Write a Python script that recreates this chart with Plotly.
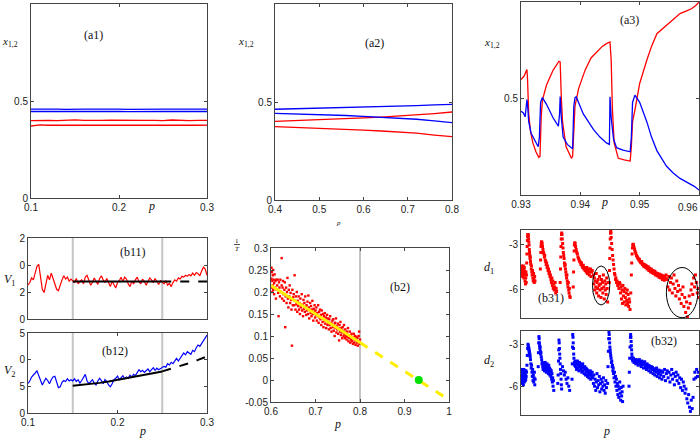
import numpy as np
import plotly.graph_objects as go

W, H = 700, 439

# ---------------- data ----------------
# (a1)
a1_p = [0.10, 0.11, 0.12, 0.13, 0.14, 0.15, 0.16, 0.17, 0.18, 0.19, 0.20,
        0.21, 0.22, 0.23, 0.24, 0.25, 0.26, 0.27, 0.28, 0.29, 0.30]
a1_blue_hi = [0.458, 0.459, 0.458, 0.458, 0.457, 0.459, 0.458, 0.458, 0.459, 0.458, 0.458,
              0.457, 0.458, 0.459, 0.458, 0.458, 0.458, 0.459, 0.458, 0.458, 0.458]
a1_blue_lo = [0.446, 0.445, 0.446, 0.447, 0.446, 0.446, 0.445, 0.446, 0.446, 0.447, 0.446,
              0.445, 0.446, 0.446, 0.446, 0.447, 0.446, 0.445, 0.446, 0.446, 0.446]
a1_red_hi = [0.399, 0.401, 0.400, 0.399, 0.401, 0.403, 0.400, 0.399, 0.400, 0.401, 0.400,
             0.399, 0.401, 0.400, 0.400, 0.399, 0.402, 0.400, 0.399, 0.400, 0.400]
a1_red_lo = [0.371, 0.377, 0.375, 0.376, 0.374, 0.376, 0.375, 0.376, 0.375, 0.376, 0.375,
             0.374, 0.376, 0.375, 0.376, 0.375, 0.374, 0.376, 0.375, 0.375, 0.376]

# (a2)
a2_p = [0.40, 0.44, 0.48, 0.52, 0.56, 0.60, 0.64, 0.68, 0.72, 0.76, 0.80]
a2_blue_hi = [0.463, 0.465, 0.468, 0.470, 0.472, 0.475, 0.477, 0.480, 0.482, 0.485, 0.488]
a2_blue_lo = [0.442, 0.440, 0.437, 0.434, 0.431, 0.427, 0.423, 0.418, 0.412, 0.404, 0.395]
a2_red_hi = [0.401, 0.404, 0.408, 0.411, 0.415, 0.419, 0.423, 0.428, 0.434, 0.441, 0.449]
a2_red_lo = [0.374, 0.371, 0.368, 0.364, 0.361, 0.357, 0.352, 0.347, 0.341, 0.331, 0.323]

# (a3)
a3_red = [(0.9300, 0.598), (0.9305, 0.615), (0.9310, 0.650), (0.9311, 0.600), (0.9313, 0.420),
          (0.9316, 0.330), (0.9320, 0.270), (0.9325, 0.225), (0.9330, 0.195), (0.9332, 0.200),
          (0.9334, 0.400), (0.9336, 0.490), (0.9343, 0.570), (0.9354, 0.646), (0.9364, 0.693),
          (0.9366, 0.690), (0.9368, 0.500), (0.9370, 0.380), (0.9376, 0.250), (0.9385, 0.190),
          (0.9387, 0.200), (0.9389, 0.380), (0.9391, 0.460), (0.9397, 0.550), (0.9408, 0.647),
          (0.9418, 0.710), (0.9428, 0.741), (0.9437, 0.770), (0.9444, 0.784), (0.9450, 0.793),
          (0.9452, 0.700), (0.9454, 0.450), (0.9457, 0.270), (0.9464, 0.190), (0.9474, 0.182),
          (0.9484, 0.176), (0.9486, 0.250), (0.9488, 0.380), (0.9492, 0.440), (0.9500, 0.578),
          (0.9512, 0.698), (0.9520, 0.770), (0.9529, 0.836), (0.9545, 0.879), (0.9556, 0.905),
          (0.9568, 0.940), (0.9580, 0.955), (0.9588, 0.966), (0.9594, 0.980), (0.9600, 1.000)]
a3_blue = [(0.9300, 0.434), (0.9304, 0.425), (0.9307, 0.405), (0.9309, 0.450), (0.9310, 0.495),
           (0.9311, 0.470), (0.9313, 0.380), (0.9317, 0.320), (0.9323, 0.285), (0.9329, 0.250),
           (0.9331, 0.300), (0.9333, 0.480), (0.9336, 0.505), (0.9343, 0.470), (0.9354, 0.400),
           (0.9363, 0.357), (0.9365, 0.420), (0.9366, 0.510), (0.9368, 0.400), (0.9371, 0.300),
           (0.9378, 0.262), (0.9387, 0.240), (0.9389, 0.460), (0.9391, 0.505), (0.9393, 0.509),
           (0.9405, 0.420), (0.9422, 0.340), (0.9433, 0.300), (0.9444, 0.270), (0.9449, 0.262),
           (0.9450, 0.509), (0.9452, 0.400), (0.9456, 0.290), (0.9461, 0.245), (0.9472, 0.232),
           (0.9484, 0.224), (0.9486, 0.300), (0.9488, 0.480), (0.9492, 0.517), (0.9500, 0.480),
           (0.9512, 0.380), (0.9520, 0.300), (0.9529, 0.230), (0.9545, 0.150), (0.9556, 0.115),
           (0.9568, 0.086), (0.9583, 0.060), (0.9592, 0.045), (0.9600, 0.026)]
a3_xtick_vals = [0.93, 0.94, 0.95, 0.96]
a3_xtick_text = ["0.93", "0.94", "0.95", ""]   # last label drawn right-aligned at the edge

# (b11) / (b12): p sampled every 0.002 from 0.1 to 0.3
b1_p = np.round(np.linspace(0.10, 0.30, 101), 3)
b11_v = [1.26, 1.35, 1.52, 1.45, 1.70, 1.95, 2.02, 1.60, 1.10, 0.98,
         1.35, 1.62, 1.45, 1.70, 1.50, 1.30, 1.10, 1.05, 1.30, 1.45,
         1.60, 1.48, 1.55, 1.40, 1.48, 1.42, 1.35, 1.50, 1.30, 1.38,
         1.45, 1.30, 1.55, 1.62, 1.40, 1.25, 1.35, 1.52, 1.40, 1.28,
         1.50, 1.60, 1.45, 1.35, 1.50, 1.32, 1.20, 1.40, 1.25, 1.15,
         1.35, 1.42, 1.55, 1.38, 1.55, 1.48, 1.30, 1.20, 1.40, 1.30,
         1.45, 1.55, 1.38, 1.30, 1.48, 1.40, 1.25, 1.38, 1.52, 1.45,
         1.35, 1.50, 1.40, 1.28, 1.42, 1.36, 1.30, 1.42, 1.25, 1.32,
         1.20, 1.35, 1.45, 1.40, 1.52, 1.48, 1.58, 1.55, 1.62, 1.58,
         1.65, 1.60, 1.70, 1.62, 1.72, 1.68, 1.60, 1.78, 1.92, 1.85, 1.62]
b12_v = [1.11, 1.20, 1.35, 1.45, 1.50, 1.58, 1.40, 1.20, 1.05, 1.18,
         1.30, 1.22, 1.10, 1.25, 1.35, 1.38, 1.15, 0.95, 0.98, 1.15,
         1.22, 1.18, 1.28, 1.20, 1.25, 1.20, 1.28, 1.18, 1.25, 1.12,
         1.22, 1.35, 1.45, 1.20, 1.10, 1.18, 1.25, 1.12, 1.05, 1.20,
         1.30, 1.22, 1.10, 1.25, 1.18, 1.05, 0.98, 1.10, 1.25, 1.30,
         1.38, 1.25, 1.32, 1.40, 1.28, 1.35, 1.30, 1.42, 1.35, 1.45,
         1.40, 1.50, 1.62, 1.55, 1.60, 1.52, 1.58, 1.65, 1.55, 1.62,
         1.70, 1.60, 1.68, 1.62, 1.66, 1.70, 1.75, 1.72, 1.85, 1.80,
         1.90, 1.85, 1.98, 2.05, 1.95, 2.08, 2.15, 2.25, 2.18, 2.30,
         2.25, 2.20, 2.35, 2.30, 2.45, 2.55, 2.50, 2.60, 2.72, 2.80, 2.92]
b11_fit_p = [0.15, 0.25]
b11_fit_v = [1.39, 1.39]
b11_ext_p = [0.25, 0.30]
b11_ext_v = [1.39, 1.39]
b12_fit_p = [0.15, 0.16, 0.17, 0.18, 0.19, 0.20, 0.21, 0.22, 0.23, 0.24, 0.25]
b12_fit_v = [1.02, 1.05, 1.09, 1.13, 1.18, 1.24, 1.30, 1.36, 1.42, 1.49, 1.56]
b12_ext_p = [0.25, 0.26, 0.27, 0.28, 0.29, 0.30]
b12_ext_v = [1.56, 1.66, 1.76, 1.87, 1.99, 2.12]
b1_ytick_vals = [0, 1, 2, 3]
b11_ytick_text = ["0", "2", "0", "2"]
b12_ytick_text = ["0", "5", "0", "5"]
b1_gray_p = [0.15, 0.25]

# (b2)
b2_pts = [(0.601, 0.255), (0.601, 0.230), (0.602, 0.210), (0.602, 0.245), (0.603, 0.225), (0.603, 0.200),
          (0.604, 0.238), (0.604, 0.215), (0.605, 0.250), (0.605, 0.205), (0.606, 0.228), (0.607, 0.195),
          (0.607, 0.220), (0.608, 0.240), (0.609, 0.210), (0.610, 0.225), (0.611, 0.185), (0.612, 0.228),
          (0.613, 0.205), (0.614, 0.215), (0.615, 0.228), (0.616, 0.198), (0.617, 0.145), (0.618, 0.222),
          (0.619, 0.210), (0.620, 0.190), (0.621, 0.228), (0.622, 0.200), (0.624, 0.277), (0.624, 0.215),
          (0.625, 0.185), (0.626, 0.210), (0.627, 0.225), (0.628, 0.195), (0.629, 0.180), (0.630, 0.205),
          (0.631, 0.222), (0.632, 0.120), (0.633, 0.190), (0.634, 0.210), (0.635, 0.175), (0.636, 0.200),
          (0.637, 0.232), (0.638, 0.185), (0.639, 0.165), (0.640, 0.205), (0.641, 0.190), (0.642, 0.215),
          (0.643, 0.175), (0.644, 0.198), (0.645, 0.182), (0.646, 0.160), (0.647, 0.078), (0.648, 0.205),
          (0.649, 0.170), (0.650, 0.188), (0.651, 0.195), (0.652, 0.170), (0.653, 0.238), (0.654, 0.180),
          (0.655, 0.160), (0.656, 0.190), (0.657, 0.172), (0.658, 0.200), (0.659, 0.155), (0.660, 0.180),
          (0.661, 0.168), (0.662, 0.190), (0.663, 0.160), (0.664, 0.175), (0.665, 0.150), (0.666, 0.185),
          (0.667, 0.165), (0.668, 0.172), (0.669, 0.195), (0.670, 0.158), (0.671, 0.170), (0.672, 0.145),
          (0.673, 0.182), (0.674, 0.162), (0.675, 0.175), (0.676, 0.155), (0.677, 0.190), (0.678, 0.165),
          (0.679, 0.148), (0.680, 0.170), (0.681, 0.158), (0.682, 0.178), (0.683, 0.150), (0.684, 0.192),
          (0.685, 0.165), (0.686, 0.140), (0.687, 0.160), (0.688, 0.175), (0.689, 0.152), (0.690, 0.168),
          (0.691, 0.145), (0.692, 0.160), (0.693, 0.180), (0.694, 0.150), (0.695, 0.135), (0.696, 0.162),
          (0.697, 0.155), (0.698, 0.170), (0.699, 0.142), (0.700, 0.158), (0.701, 0.148), (0.702, 0.165),
          (0.703, 0.135), (0.704, 0.152), (0.705, 0.145), (0.706, 0.170), (0.707, 0.130), (0.708, 0.155),
          (0.709, 0.142), (0.710, 0.160), (0.711, 0.138), (0.712, 0.148), (0.713, 0.125), (0.714, 0.158),
          (0.715, 0.140), (0.716, 0.132), (0.717, 0.150), (0.718, 0.120), (0.719, 0.145), (0.720, 0.135),
          (0.721, 0.152), (0.722, 0.128), (0.723, 0.142), (0.724, 0.118), (0.725, 0.135), (0.726, 0.148),
          (0.727, 0.125), (0.728, 0.140), (0.729, 0.130), (0.730, 0.115), (0.731, 0.138), (0.732, 0.125),
          (0.733, 0.145), (0.734, 0.118), (0.735, 0.130), (0.736, 0.110), (0.737, 0.128), (0.738, 0.135),
          (0.739, 0.120), (0.740, 0.138), (0.741, 0.112), (0.742, 0.125), (0.743, 0.100), (0.744, 0.130),
          (0.745, 0.118), (0.746, 0.140), (0.747, 0.108), (0.748, 0.122), (0.749, 0.115), (0.750, 0.128),
          (0.751, 0.105), (0.752, 0.118), (0.753, 0.090), (0.754, 0.125), (0.755, 0.110), (0.756, 0.132),
          (0.757, 0.102), (0.758, 0.118), (0.759, 0.108), (0.760, 0.095), (0.761, 0.120), (0.762, 0.112),
          (0.763, 0.100), (0.764, 0.125), (0.765, 0.105), (0.766, 0.095), (0.767, 0.115), (0.768, 0.100),
          (0.769, 0.108), (0.770, 0.092), (0.771, 0.110), (0.772, 0.098), (0.773, 0.118), (0.774, 0.088),
          (0.775, 0.102), (0.776, 0.095), (0.777, 0.110), (0.778, 0.085), (0.779, 0.100), (0.780, 0.092),
          (0.781, 0.105), (0.782, 0.088), (0.783, 0.098), (0.784, 0.082), (0.785, 0.095), (0.786, 0.105),
          (0.787, 0.085), (0.788, 0.092), (0.789, 0.100), (0.790, 0.080), (0.791, 0.090), (0.792, 0.098),
          (0.793, 0.085), (0.794, 0.095), (0.795, 0.078), (0.796, 0.088), (0.797, 0.100), (0.798, 0.110),
          (0.799, 0.082), (0.800, 0.092)]
b2_fit_p = [0.6, 0.8]
b2_fit_v = [0.215, 0.085]
b2_ext_p = [0.8, 1.0]
b2_ext_v = [0.085, -0.045]
b2_crit_p = [0.932]
b2_crit_v = [0.0]
b2_gray_p = 0.8
b2_ytick_vals = [-0.05, 0, 0.05, 0.1, 0.15, 0.2, 0.25, 0.3]
b2_ytick_text = ["-0.05", "0", "0.05", "0.1", "0.15", "0.2", "0.25", "0.3"]

# (b31)  d1
b31_pts = [
    (0.93000, -4.6), (0.93004, -4.9), (0.93008, -4.4), (0.93012, -4.7), (0.93016, -5.0), (0.93020, -4.5),
    (0.93024, -4.8), (0.93028, -5.1), (0.93032, -4.6), (0.93036, -4.9), (0.93040, -4.4), (0.93044, -4.8),
    (0.93048, -5.2), (0.93052, -4.7), (0.93056, -4.5), (0.93060, -5.0), (0.93064, -4.8), (0.93068, -5.4),
    (0.93072, -4.9), (0.93076, -5.6), (0.93080, -5.2), (0.93084, -4.8), (0.93088, -5.5), (0.93092, -5.0),
    (0.93096, -4.2), (0.93100, -3.6), (0.93104, -3.1), (0.93108, -2.7), (0.93112, -2.45), (0.93116, -2.3),
    (0.93120, -2.32), (0.93124, -2.4), (0.93128, -2.6), (0.93132, -2.8), (0.93136, -3.0), (0.93140, -3.3),
    (0.93144, -3.5), (0.93148, -3.7), (0.93152, -3.9), (0.93156, -3.8), (0.93160, -4.1), (0.93166, -4.3),
    (0.93172, -4.6), (0.93176, -4.4), (0.93182, -4.8), (0.93188, -5.0), (0.93194, -4.7), (0.93200, -5.2),
    (0.93206, -5.4), (0.93212, -4.9), (0.93218, -5.3), (0.93224, -5.5), (0.93230, -5.1), (0.93236, -5.4),
    (0.93326, -4.6), (0.93330, -4.0), (0.93334, -3.5), (0.93338, -3.1), (0.93342, -2.9), (0.93346, -2.8),
    (0.93350, -2.8), (0.93356, -2.9), (0.93362, -3.1), (0.93370, -3.3), (0.93378, -3.5), (0.93386, -3.6),
    (0.93394, -3.8), (0.93400, -3.7), (0.93408, -4.0), (0.93416, -4.1), (0.93424, -4.3), (0.93432, -4.2),
    (0.93440, -4.5), (0.93448, -4.4), (0.93456, -4.7), (0.93464, -4.6), (0.93472, -4.9), (0.93480, -4.8),
    (0.93488, -5.1), (0.93496, -5.0), (0.93504, -5.3), (0.93512, -5.5), (0.93520, -5.2), (0.93528, -5.7),
    (0.93536, -5.4), (0.93544, -5.9), (0.93552, -5.6), (0.93560, -6.0), (0.93568, -5.8), (0.93576, -5.5),
    (0.93584, -6.2), (0.93592, -5.9), (0.93600, -6.1),
    (0.93660, -5.5), (0.93666, -4.6), (0.93670, -3.8), (0.93674, -3.1), (0.93678, -2.6), (0.93682, -2.3),
    (0.93686, -2.2), (0.93690, -2.3), (0.93696, -2.6), (0.93702, -2.9), (0.93708, -3.2), (0.93714, -3.5),
    (0.93720, -3.7), (0.93726, -3.9), (0.93732, -4.2), (0.93738, -4.4), (0.93744, -4.3), (0.93750, -4.6),
    (0.93756, -4.8), (0.93762, -5.0), (0.93768, -5.2), (0.93774, -5.0), (0.93780, -5.4), (0.93786, -5.6),
    (0.93792, -5.8), (0.93798, -5.5), (0.93804, -6.0), (0.93810, -6.2), (0.93816, -5.9), (0.93822, -6.4),
    (0.93828, -6.5),
    (0.93880, -5.8), (0.93886, -4.8), (0.93892, -4.0), (0.93896, -3.4), (0.93900, -3.0), (0.93906, -2.85),
    (0.93912, -2.9), (0.93920, -3.1), (0.93930, -3.3), (0.93940, -3.5), (0.93950, -3.6), (0.93960, -3.8),
    (0.93970, -3.9), (0.93980, -4.0), (0.93990, -4.1), (0.94000, -4.15), (0.94010, -4.3), (0.94020, -4.2),
    (0.94030, -4.4), (0.94040, -4.5), (0.94050, -4.35), (0.94060, -4.6), (0.94070, -4.5), (0.94080, -4.7),
    (0.94090, -4.6), (0.94100, -4.8), (0.94110, -4.5), (0.94120, -4.9), (0.94130, -4.7), (0.94140, -4.6),
    (0.94150, -5.0), (0.94160, -4.8), (0.94170, -4.6), (0.94180, -5.1), (0.94190, -4.8), (0.94200, -4.7),
    (0.94220, -5.0), (0.94228, -5.6), (0.94236, -5.2), (0.94244, -6.0), (0.94252, -5.4), (0.94260, -5.8),
    (0.94268, -4.9), (0.94276, -6.2), (0.94284, -5.5), (0.94292, -5.9), (0.94300, -5.3), (0.94308, -6.4),
    (0.94316, -5.7), (0.94324, -5.1), (0.94332, -6.0), (0.94340, -5.6), (0.94348, -6.5), (0.94356, -5.3),
    (0.94364, -5.9), (0.94372, -5.5), (0.94380, -6.2), (0.94388, -5.0), (0.94396, -5.8), (0.94404, -6.6),
    (0.94412, -5.4), (0.94420, -6.0), (0.94428, -5.6), (0.94436, -6.3), (0.94444, -5.2), (0.94452, -5.9),
    (0.94460, -6.8), (0.94468, -5.5),
    (0.94488, -5.5), (0.94492, -4.7), (0.94496, -3.9), (0.94500, -3.2), (0.94504, -2.6), (0.94508, -2.2),
    (0.94512, -2.1), (0.94516, -2.2), (0.94520, -2.5), (0.94528, -2.9), (0.94536, -3.3), (0.94544, -3.7),
    (0.94552, -4.0), (0.94560, -4.3), (0.94568, -4.6), (0.94576, -4.9), (0.94584, -5.0), (0.94592, -5.3),
    (0.94600, -5.2), (0.94610, -5.5), (0.94620, -5.4), (0.94630, -5.7), (0.94640, -5.6), (0.94650, -5.9),
    (0.94660, -5.5), (0.94670, -5.6), (0.94678, -6.2), (0.94686, -5.8), (0.94694, -6.6), (0.94702, -6.0),
    (0.94710, -6.9), (0.94718, -5.7), (0.94726, -6.4), (0.94734, -6.1), (0.94742, -6.8), (0.94750, -5.9),
    (0.94758, -6.5), (0.94766, -7.0), (0.94774, -6.2), (0.94782, -6.7), (0.94790, -6.0), (0.94798, -6.9),
    (0.94806, -6.3), (0.94814, -7.1), (0.94822, -6.6), (0.94830, -6.8), (0.94838, -7.3),
    (0.94850, -6.2), (0.94860, -5.0), (0.94866, -4.2), (0.94872, -3.6), (0.94878, -3.2), (0.94884, -3.0),
    (0.94890, -2.95), (0.94896, -3.0), (0.94905, -3.15), (0.94915, -3.3), (0.94925, -3.45), (0.94935, -3.55),
    (0.94945, -3.7), (0.94955, -3.75), (0.94965, -3.85), (0.94975, -3.9), (0.94985, -4.0), (0.94995, -3.95),
    (0.95005, -4.1), (0.95015, -4.15), (0.95025, -4.2), (0.95035, -4.1), (0.95045, -4.3), (0.95055, -4.25),
    (0.95065, -4.4), (0.95075, -4.3), (0.95085, -4.45), (0.95095, -4.35), (0.95105, -4.5), (0.95115, -4.4),
    (0.95125, -4.6), (0.95135, -4.5), (0.95145, -4.45), (0.95155, -4.7), (0.95165, -4.55), (0.95175, -4.65),
    (0.95185, -4.8), (0.95195, -4.6), (0.95205, -4.75), (0.95215, -4.85), (0.95225, -4.7), (0.95235, -4.9),
    (0.95245, -4.8), (0.95255, -4.75), (0.95265, -5.0), (0.95275, -4.85), (0.95285, -4.95), (0.95295, -5.05),
    (0.95305, -4.9), (0.95315, -5.0), (0.95325, -5.15), (0.95335, -4.95), (0.95345, -5.1), (0.95355, -5.2),
    (0.95365, -5.0), (0.95375, -5.15), (0.95385, -5.3), (0.95395, -5.05), (0.95405, -5.2), (0.95415, -5.35),
    (0.95425, -5.1), (0.95435, -5.25), (0.95445, -5.0),
    (0.95460, -5.3), (0.95475, -5.8), (0.95490, -5.1), (0.95505, -6.0), (0.95520, -5.5), (0.95535, -5.2),
    (0.95550, -6.2), (0.95565, -5.6), (0.95580, -5.0), (0.95595, -5.9), (0.95610, -6.4), (0.95625, -5.4),
    (0.95640, -6.1), (0.95655, -5.7), (0.95670, -6.6), (0.95685, -6.0), (0.95700, -6.9), (0.95715, -6.3),
    (0.95730, -5.8), (0.95745, -7.1), (0.95760, -6.5), (0.95775, -7.5), (0.95790, -6.8), (0.95805, -7.8),
    (0.95820, -7.2), (0.95835, -6.4), (0.95850, -6.9), (0.95865, -6.0), (0.95880, -5.6), (0.95895, -6.3),
    (0.95910, -5.2), (0.95925, -5.8), (0.95940, -5.0), (0.95955, -5.5), (0.95970, -6.2), (0.95985, -5.9),
    (0.95995, -6.5)]

# (b32)  d2
b32_pts = [
    (0.93000, -5.0), (0.93004, -5.4), (0.93008, -4.8), (0.93012, -5.6), (0.93016, -5.2), (0.93020, -4.9),
    (0.93024, -5.8), (0.93028, -5.3), (0.93032, -5.0), (0.93036, -5.5), (0.93040, -5.9), (0.93044, -5.1),
    (0.93048, -4.8), (0.93052, -5.4), (0.93056, -5.7), (0.93060, -5.0), (0.93064, -5.3), (0.93068, -4.9),
    (0.93072, -5.6), (0.93076, -5.2), (0.93080, -5.5), (0.93084, -4.9), (0.93088, -5.3), (0.93092, -5.0),
    (0.93100, -4.5), (0.93106, -3.8), (0.93112, -3.3), (0.93118, -3.0), (0.93122, -3.1), (0.93126, -3.2),
    (0.93130, -3.4), (0.93134, -3.3), (0.93138, -3.6), (0.93142, -3.5), (0.93146, -3.8), (0.93150, -3.7),
    (0.93155, -3.9), (0.93160, -4.1), (0.93166, -4.4), (0.93172, -4.7), (0.93178, -4.5), (0.93184, -5.0),
    (0.93190, -5.3), (0.93196, -4.8), (0.93202, -5.6), (0.93208, -5.2), (0.93214, -5.7), (0.93220, -5.4),
    (0.93226, -5.0), (0.93232, -5.9), (0.93238, -5.5),
    (0.93290, -4.6), (0.93294, -3.6), (0.93298, -2.9), (0.93302, -2.45), (0.93306, -2.6), (0.93310, -2.9),
    (0.93314, -3.1), (0.93318, -3.3), (0.93322, -3.2), (0.93326, -3.5), (0.93330, -3.7), (0.93336, -3.6),
    (0.93342, -3.9), (0.93348, -4.1), (0.93354, -4.4), (0.93360, -4.3), (0.93366, -4.6), (0.93372, -4.8),
    (0.93378, -4.5), (0.93384, -4.7), (0.93390, -4.4), (0.93396, -4.9), (0.93402, -4.6), (0.93408, -4.3),
    (0.93414, -4.8), (0.93420, -4.5), (0.93426, -5.0), (0.93432, -4.7), (0.93438, -4.4), (0.93444, -4.9),
    (0.93450, -4.6), (0.93456, -4.8), (0.93462, -5.1), (0.93468, -4.5), (0.93474, -4.9), (0.93480, -4.7),
    (0.93486, -5.2), (0.93492, -4.8), (0.93498, -5.0), (0.93504, -5.3), (0.93510, -4.9), (0.93516, -5.5),
    (0.93522, -5.1), (0.93528, -5.7), (0.93534, -5.4), (0.93540, -6.0), (0.93546, -5.6), (0.93552, -6.3),
    (0.93620, -5.8), (0.93626, -5.2), (0.93632, -4.2), (0.93636, -3.4), (0.93640, -2.7), (0.93644, -2.9),
    (0.93648, -3.3), (0.93652, -3.7), (0.93656, -4.0), (0.93660, -4.4), (0.93665, -4.8), (0.93670, -5.1),
    (0.93675, -5.5), (0.93680, -5.9), (0.93685, -6.2), (0.93700, -4.6), (0.93715, -4.9), (0.93730, -5.2),
    (0.93745, -5.0), (0.93760, -5.5), (0.93775, -5.8), (0.93790, -5.4), (0.93805, -6.0), (0.93820, -6.3),
    (0.93860, -5.5), (0.93864, -4.4), (0.93868, -3.2), (0.93872, -2.3), (0.93876, -2.5), (0.93880, -2.9),
    (0.93884, -3.3), (0.93888, -3.7), (0.93892, -4.0), (0.93898, -4.3), (0.93904, -4.5), (0.93912, -4.2),
    (0.93920, -4.6), (0.93928, -4.35), (0.93936, -4.8), (0.93944, -4.4), (0.93952, -4.2), (0.93960, -4.7),
    (0.93968, -4.5), (0.93976, -4.9), (0.93984, -4.3), (0.93992, -4.6), (0.94000, -4.4), (0.94008, -4.8),
    (0.94016, -4.5), (0.94024, -5.0), (0.94032, -4.6), (0.94040, -4.4), (0.94048, -4.9), (0.94056, -4.7),
    (0.94064, -5.1), (0.94072, -4.6), (0.94080, -4.8), (0.94088, -5.2), (0.94096, -4.7), (0.94104, -5.0),
    (0.94112, -4.8), (0.94120, -5.3), (0.94128, -4.9), (0.94136, -5.1), (0.94144, -5.4), (0.94152, -5.0),
    (0.94160, -5.2), (0.94168, -4.9), (0.94176, -5.5), (0.94184, -5.1), (0.94192, -5.3), (0.94200, -5.0),
    (0.94210, -5.4), (0.94220, -5.8), (0.94230, -5.2), (0.94240, -6.0), (0.94250, -5.5), (0.94260, -6.3),
    (0.94270, -5.7), (0.94280, -5.1), (0.94290, -6.1), (0.94300, -5.6), (0.94310, -5.9), (0.94320, -5.3),
    (0.94330, -6.4), (0.94340, -5.8), (0.94350, -5.5), (0.94360, -6.2), (0.94370, -5.7), (0.94380, -6.0),
    (0.94390, -5.4), (0.94400, -6.3), (0.94410, -5.9), (0.94420, -6.5), (0.94430, -5.6), (0.94440, -6.1),
    (0.94460, -5.8), (0.94466, -4.6), (0.94472, -3.5), (0.94478, -2.6), (0.94482, -2.1), (0.94486, -2.3),
    (0.94490, -2.6), (0.94494, -2.9), (0.94498, -3.2), (0.94502, -3.4), (0.94506, -3.6), (0.94512, -3.8),
    (0.94518, -4.0), (0.94524, -4.3), (0.94530, -4.2), (0.94536, -4.6), (0.94542, -4.5), (0.94548, -4.9),
    (0.94554, -4.7), (0.94560, -5.1), (0.94568, -5.4), (0.94576, -5.0), (0.94584, -5.7), (0.94592, -5.3),
    (0.94600, -6.0), (0.94608, -5.5), (0.94616, -6.3), (0.94624, -5.8), (0.94632, -6.6), (0.94640, -6.0),
    (0.94648, -6.8), (0.94656, -6.2), (0.94664, -5.7), (0.94672, -6.5), (0.94680, -7.0), (0.94688, -6.1),
    (0.94696, -6.7), (0.94704, -6.4), (0.94712, -7.1), (0.94720, -6.0),
    (0.94820, -6.0), (0.94826, -5.0), (0.94832, -4.0), (0.94838, -3.2), (0.94844, -2.5), (0.94848, -2.3),
    (0.94852, -2.5), (0.94856, -2.8), (0.94860, -3.1), (0.94864, -3.4), (0.94868, -3.7), (0.94872, -3.9),
    (0.94878, -4.1), (0.94885, -4.2), (0.94895, -4.0), (0.94905, -4.3), (0.94915, -4.1), (0.94925, -4.2),
    (0.94935, -4.4), (0.94945, -4.1), (0.94955, -4.3), (0.94965, -4.2), (0.94975, -4.5), (0.94985, -4.25),
    (0.94995, -4.1), (0.95005, -4.4), (0.95015, -4.3), (0.95025, -4.6), (0.95035, -4.2), (0.95045, -4.45),
    (0.95055, -4.3), (0.95065, -4.7), (0.95075, -4.4), (0.95085, -4.25), (0.95095, -4.6), (0.95105, -4.5),
    (0.95115, -4.8), (0.95125, -4.4), (0.95135, -4.65), (0.95145, -4.5), (0.95155, -4.9), (0.95165, -4.55),
    (0.95175, -4.7), (0.95185, -5.0), (0.95195, -4.6), (0.95205, -4.8), (0.95215, -4.65), (0.95225, -5.1),
    (0.95235, -4.75), (0.95245, -4.9), (0.95255, -5.2), (0.95265, -4.8), (0.95275, -5.0), (0.95285, -4.7),
    (0.95295, -5.3), (0.95305, -4.9), (0.95315, -5.1), (0.95325, -4.85), (0.95335, -5.4), (0.95345, -5.0),
    (0.95355, -5.2), (0.95365, -4.9), (0.95375, -5.5),
    (0.95390, -5.0), (0.95405, -5.3), (0.95420, -4.8), (0.95435, -5.6), (0.95450, -5.1), (0.95465, -4.9),
    (0.95480, -5.4), (0.95495, -5.0), (0.95510, -5.7), (0.95525, -5.2), (0.95540, -4.8), (0.95555, -5.5),
    (0.95570, -5.1), (0.95585, -5.9), (0.95600, -5.3), (0.95615, -5.0), (0.95630, -5.6), (0.95645, -5.2),
    (0.95660, -5.8), (0.95675, -5.4), (0.95690, -6.1), (0.95705, -5.5), (0.95720, -6.3), (0.95735, -5.7),
    (0.95750, -6.0), (0.95765, -6.5), (0.95780, -6.2), (0.95795, -6.9), (0.95810, -7.2), (0.95825, -6.6),
    (0.95840, -7.5), (0.95855, -7.8), (0.95870, -7.0), (0.95885, -7.6), (0.95900, -6.8),
    (0.95915, -5.5), (0.95930, -5.0), (0.95945, -5.4), (0.95960, -4.8), (0.95975, -5.3), (0.95990, -5.0)]

b3_ytick_vals = [-6, -3]
b3_ytick_text = ["-6", "-3"]
b31_ellipses = [((0.94205, 0.94496), (-7.0, -4.4)), ((0.95450, 0.95980), (-7.85, -4.5))]

# ---------------- layout helpers ----------------
RED, BLUE = "#ff0000", "#0000ff"
SANS = "Liberation Sans, Arial, sans-serif"
SERIF = "Liberation Serif, Times New Roman, serif"

panels = {  # left, right, top, bottom in pixels
    "a1": (31, 207, 4, 198),
    "a2": (275, 452, 4, 200),
    "a3": (521, 699, 2, 195),
    "b11": (28, 207, 238, 319),
    "b12": (28, 207, 333, 413),
    "b2": (271, 449, 248, 402),
    "b31": (521, 699, 230, 318),
    "b32": (521, 699, 331, 415),
}
order = ["a1", "a2", "a3", "b11", "b12", "b2", "b31", "b32"]
idx = {k: i + 1 for i, k in enumerate(order)}


def ax_names(k):
    i = idx[k]
    s = "" if i == 1 else str(i)
    return "x" + s, "y" + s, "xaxis" + s, "yaxis" + s


def axis(domain, rng, tickvals, ticktext=None, show=True, anchor=None):
    d = dict(domain=domain, range=rng, tickmode="array", tickvals=tickvals,
             showline=True, linecolor="#444", linewidth=1, mirror="ticks",
             ticks="inside", ticklen=3, tickcolor="#444", showgrid=False,
             zeroline=False, showticklabels=show, automargin=False, fixedrange=True,
             tickfont=dict(family=SANS, size=10, color="#222"), anchor=anchor)
    if ticktext is not None:
        d["ticktext"] = ticktext
    return d


P3 = [0.93, 0.96]
ranges = {
    "a1": ([0.1, 0.3], [0, 1], [0.1, 0.2, 0.3], None, True, [0, 0.5, 1], None),
    "a2": ([0.4, 0.8], [0, 1], [0.4, 0.5, 0.6, 0.7, 0.8], None, True, [0, 0.5, 1], None),
    "a3": (P3, [0, 1], a3_xtick_vals, a3_xtick_text, True, [0.5], None),
    "b11": ([0.1, 0.3], [0, 3], [], None, False, b1_ytick_vals, b11_ytick_text),
    "b12": ([0.1, 0.3], [0, 3], [0.1, 0.2, 0.3], None, True, b1_ytick_vals, b12_ytick_text),
    "b2": ([0.6, 1.0], [-0.05, 0.3], [0.6, 0.7, 0.8, 0.9, 1.0], ["0.6", "0.7", "0.8", "0.9", "1"], True,
           b2_ytick_vals, b2_ytick_text),
    "b31": (P3, [-7.87, -2.0], [], None, False, b3_ytick_vals, b3_ytick_text),
    "b32": (P3, [-8.06, -2.05], [], None, False, b3_ytick_vals, b3_ytick_text),
}

layout = dict(width=W, height=H, margin=dict(l=0, r=0, t=0, b=0),
              paper_bgcolor="white", plot_bgcolor="white", showlegend=False)
for k in order:
    l, r, t, b = panels[k]
    xs, ys, xk, yk = ax_names(k)
    xr, yr, xt, xtt, xshow, yt, ytt = ranges[k]
    layout[xk] = axis([l / W, r / W], xr, xt, xtt, xshow, anchor=ys)
    layout[yk] = axis([1 - b / H, 1 - t / H], yr, yt, ytt, True, anchor=xs)

fig = go.Figure()


def line(k, x, y, color, width=1.3, dash=None):
    xs, ys, _, _ = ax_names(k)
    fig.add_trace(go.Scatter(x=x, y=y, mode="lines", xaxis=xs, yaxis=ys,
                             line=dict(color=color, width=width, dash=dash),
                             hoverinfo="skip"))


def dots(k, pts, color, size=3, symbol="square"):
    xs, ys, _, _ = ax_names(k)
    fig.add_trace(go.Scatter(x=[p[0] for p in pts], y=[p[1] for p in pts], mode="markers",
                             xaxis=xs, yaxis=ys,
                             marker=dict(color=color, size=size, symbol=symbol, line=dict(width=0)),
                             hoverinfo="skip"))


# (a1)
line("a1", a1_p, a1_red_hi, RED)
line("a1", a1_p, a1_red_lo, RED)
line("a1", a1_p, a1_blue_hi, BLUE)
line("a1", a1_p, a1_blue_lo, BLUE)
# (a2)
line("a2", a2_p, a2_red_hi, RED)
line("a2", a2_p, a2_red_lo, RED)
line("a2", a2_p, a2_blue_hi, BLUE)
line("a2", a2_p, a2_blue_lo, BLUE)
# (a3)
line("a3", [p for p, _ in a3_red], [v for _, v in a3_red], RED)
line("a3", [p for p, _ in a3_blue], [v for _, v in a3_blue], BLUE)
# (b11), (b12)
line("b11", b1_p, b11_v, RED, 1.2)
line("b11", b11_fit_p, b11_fit_v, "black", 2)
line("b11", b11_ext_p, b11_ext_v, "black", 2, "dash")
line("b12", b1_p, b12_v, BLUE, 1.2)
line("b12", b12_fit_p, b12_fit_v, "black", 2)
line("b12", b12_ext_p, b12_ext_v, "black", 2, "dash")
# (b2)
dots("b2", b2_pts, RED, 2.4)
line("b2", b2_fit_p, b2_fit_v, "#ffee00", 3)
line("b2", b2_ext_p, b2_ext_v, "#ffee00", 3, "dash")
xs, ys, _, _ = ax_names("b2")
fig.add_trace(go.Scatter(x=b2_crit_p, y=b2_crit_v, mode="markers", xaxis=xs, yaxis=ys,
                         marker=dict(color="#00e000", size=8), hoverinfo="skip"))
# (b31), (b32)
dots("b31", b31_pts, RED, 3)
dots("b32", b32_pts, BLUE, 3)

shapes = []
for k in ["b11", "b12"]:
    xs, ys, _, _ = ax_names(k)
    for gp in b1_gray_p:
        shapes.append(dict(type="line", xref=xs, yref=ys + " domain", x0=gp, x1=gp, y0=0, y1=1,
                           line=dict(color="#c4c4c4", width=2), layer="below"))
xs, ys, _, _ = ax_names("b2")
shapes.append(dict(type="line", xref=xs, yref=ys + " domain", x0=b2_gray_p, x1=b2_gray_p, y0=0, y1=1,
                   line=dict(color="#c4c4c4", width=2), layer="below"))
xs, ys, _, _ = ax_names("b31")
for (ex, ey) in b31_ellipses:
    shapes.append(dict(type="circle", xref=xs, yref=ys, x0=ex[0], x1=ex[1], y0=ey[0], y1=ey[1],
                       line=dict(color="black", width=1)))
# 1/T fraction bar
shapes.append(dict(type="line", xref="paper", yref="paper", x0=234 / W, x1=240 / W,
                   y0=1 - 244.5 / H, y1=1 - 244.5 / H, line=dict(color="#222", width=0.8)))
layout["shapes"] = shapes


def ann(text, px, py, size=12, family=SERIF, color="#111", xanchor="center"):
    return dict(text=text, x=px / W, y=1 - py / H, xref="paper", yref="paper",
                xanchor=xanchor, yanchor="middle", showarrow=False,
                font=dict(family=family, size=size, color=color))


annotations = [
    ann("(a1)", 93, 35), ann("(a2)", 374, 43), ann("(a3)", 629, 20),
    ann("(b11)", 133, 252), ann("(b12)", 115, 351), ann("(b2)", 400, 287),
    ann("(b31)", 551, 298), ann("(b32)", 664, 341),
    ann("<i>x</i><sub>1,2</sub>", 10, 42, 11), ann("<i>x</i><sub>1,2</sub>", 246, 42, 11),
    ann("<i>x</i><sub>1,2</sub>", 492, 43, 11),
    ann("<i>V</i><sub>1</sub>", 10, 280, 12), ann("<i>V</i><sub>2</sub>", 10, 371, 12),
    ann("<i>d</i><sub>1</sub>", 489, 268, 12), ann("<i>d</i><sub>2</sub>", 489, 361, 12),
    ann("<i>p</i>", 151, 206, 12), ann("<i>p</i>", 338, 223, 7), ann("<i>p</i>", 604, 202, 12),
    ann("<i>p</i>", 142, 431, 12), ann("<i>p</i>", 337, 424, 12), ann("<i>p</i>", 606, 431, 12),
    ann("1", 237, 241, 7), ann("<i>T</i>", 237, 248.5, 7),
    ann("0.96", 700, 207, 10, SANS, "#222", "right"),
]
layout["annotations"] = annotations

fig.update_layout(**layout)
# remove the browser's default 8px body margin so the figure sits at the page origin
fig.write_html("out.html", config={"displayModeBar": False},
               post_script="document.body.style.margin='0';document.body.style.overflow='hidden';")
